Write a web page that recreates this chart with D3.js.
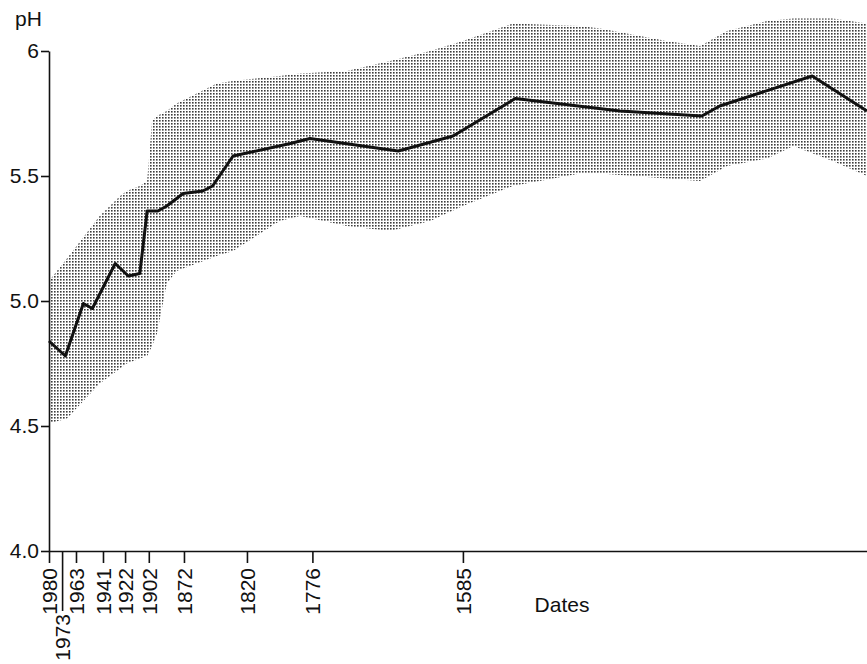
<!DOCTYPE html>
<html>
<head>
<meta charset="utf-8">
<script src="https://cdn.jsdelivr.net/npm/d3@7"></script>
<style>
  html, body { margin: 0; padding: 0; background: #fff; }
  svg { display: block; font-family: "Liberation Sans", Arial, Helvetica, sans-serif; }
</style>
</head>
<body>
<div id="viz"></div>
<script>
const W = 867;
const H = 664;

// Reconstructed pH (line), by core position (0 = surface, 100 = right edge of plot)
const lineDepth = [0, 2.0, 4.2, 5.3, 8.1, 9.7, 11.1, 12.0, 13.3, 14.4, 16.4, 18.8, 20.0, 22.5,
  29.5, 31.9, 40.5, 42.7, 49.4, 57.0, 69.8, 79.8, 82.0, 93.3, 100];
const linePH = [4.84, 4.78, 4.99, 4.97, 5.15, 5.10, 5.11, 5.36, 5.36, 5.38, 5.43, 5.44, 5.46, 5.58,
  5.63, 5.65, 5.61, 5.60, 5.66, 5.81, 5.76, 5.74, 5.78, 5.90, 5.76];

// Error band (shaded)
const bandDepth = [0, 2.2, 6.2, 8.7, 9.5, 11.1, 12.0, 12.6, 13.2, 14.4, 15.6, 20.5, 22.5, 28.2,
  30.7, 36.4, 41.7, 46.6, 50.6, 56.7, 64.9, 67.4, 75.5, 79.6, 82.9, 87.8, 91.0, 95.8, 100];
const bandUpper = [5.08, 5.17, 5.34, 5.42, 5.44, 5.46, 5.48, 5.72, 5.74, 5.76, 5.79, 5.87, 5.88, 5.90,
  5.91, 5.92, 5.96, 6.00, 6.04, 6.11, 6.10, 6.09, 6.04, 6.02, 6.08, 6.12, 6.13, 6.13, 6.11];
const bandLower = [4.51, 4.53, 4.67, 4.73, 4.75, 4.77, 4.78, 4.82, 4.87, 5.07, 5.12, 5.18, 5.20, 5.32,
  5.34, 5.30, 5.28, 5.32, 5.38, 5.46, 5.51, 5.51, 5.49, 5.48, 5.54, 5.57, 5.62, 5.56, 5.50];

// Dated levels on the x axis
const dateLabels = ['1980', '1973', '1963', '1941', '1922', '1902', '1872', '1820', '1776', '1585'];
const dateDepth = [0, 1.6, 3.3, 6.6, 9.3, 12.2, 16.5, 24.2, 32.2, 50.6];

const phTicks = [4.0, 4.5, 5.0, 5.5, 6];
const phTickLabels = ['4.0', '4.5', '5.0', '5.5', '6'];

const svg = d3.select('#viz')
  .append('svg')
  .attr('width', W)
  .attr('height', H);

const x = d3.scaleLinear().domain([0, 100]).range([49, 867]);
const y = d3.scaleLinear().domain([4, 6]).range([551, 51]);

// halftone screen
const pat = svg.append('defs').append('pattern')
  .attr('id', 'dots')
  .attr('patternUnits', 'userSpaceOnUse')
  .attr('width', 3)
  .attr('height', 3);
pat.append('rect')
  .attr('width', 1.6)
  .attr('height', 1.6)
  .attr('fill', '#3c3c3c');

const band = bandDepth.map((d, i) => ({ d, hi: bandUpper[i], lo: bandLower[i] }));
svg.append('path')
  .datum(band)
  .attr('fill', 'url(#dots)')
  .attr('d', d3.area()
    .x((p) => x(p.d))
    .y0((p) => y(p.lo))
    .y1((p) => y(p.hi)));

const pts = lineDepth.map((d, i) => ({ d, v: linePH[i] }));
svg.append('path')
  .datum(pts)
  .attr('fill', 'none')
  .attr('stroke', '#111')
  .attr('stroke-width', 3)
  .attr('stroke-linejoin', 'round')
  .attr('d', d3.line().x((p) => x(p.d)).y((p) => y(p.v)));

// y axis
const yAxis = svg.append('g')
  .attr('transform', `translate(${x(0)},0)`)
  .call(d3.axisLeft(y)
    .tickValues(phTicks)
    .tickFormat((v, i) => phTickLabels[i])
    .tickSize(8)
    .tickSizeOuter(0)
    .tickPadding(2));

// x axis
const xAxis = svg.append('g')
  .attr('transform', `translate(0,${y(4)})`)
  .call(d3.axisBottom(x)
    .tickValues(dateDepth)
    .tickFormat((v, i) => dateLabels[i])
    .tickSize(12)
    .tickSizeOuter(0));

[yAxis, xAxis].forEach((g) => {
  g.select('.domain').attr('stroke', '#111').attr('stroke-width', 1.6);
  g.selectAll('.tick line').attr('stroke', '#111').attr('stroke-width', 1.6);
  g.selectAll('.tick text')
    .attr('fill', '#111')
    .attr('font-size', 21)
    .attr('font-family', '"Liberation Sans", Arial, sans-serif');
});

xAxis.selectAll('.tick text')
  .attr('text-anchor', 'end')
  .attr('transform', 'rotate(-90)')
  .attr('x', -17)
  .attr('y', 0)
  .attr('dy', '0.35em');

// 1973 sits on a long leader below the others
xAxis.selectAll('.tick')
  .filter((v, i) => dateLabels[i] === '1973')
  .call((t) => {
    t.select('line').attr('y2', 60);
    t.select('text').attr('x', -63);
  });

svg.append('text')
  .attr('x', 15)
  .attr('y', 26)
  .attr('font-size', 21)
  .attr('fill', '#111')
  .text('pH');

svg.append('text')
  .attr('x', 562)
  .attr('y', 612)
  .attr('text-anchor', 'middle')
  .attr('font-size', 21)
  .attr('fill', '#111')
  .text('Dates');
</script>
</body>
</html>
